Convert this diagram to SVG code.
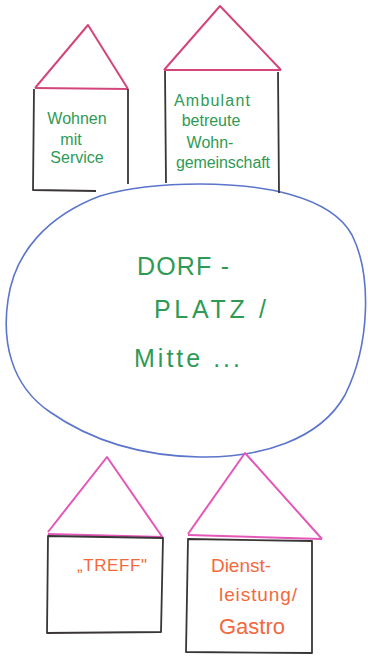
<svg xmlns="http://www.w3.org/2000/svg" width="368" height="664" viewBox="0 0 368 664">
<style>
.wall{fill:none;stroke:#3a3636;stroke-width:1.8;stroke-linejoin:round}
.roof1{fill:none;stroke:#d3467c;stroke-width:2;stroke-linejoin:round}
.roof2{fill:none;stroke:#e457b8;stroke-width:2;stroke-linejoin:round}
.g{fill:#2f9a55;font-family:"Liberation Sans",Arial,sans-serif;font-size:16px;text-anchor:middle}
.o{fill:#f2693c;font-family:"Liberation Sans",Arial,sans-serif;font-size:17px;text-anchor:middle}
.big{font-size:25px}
.o19{font-size:19px}
.o22{font-size:22px}
</style>
<rect width="368" height="664" fill="#ffffff"/>
<g id="dorfplatz">
<path d="M200,184 C260,184 330,195 352,235 C372,275 370,345 345,395 C320,440 260,458 200,457 C140,456 90,440 50,412 C10,385 2,340 8,300 C15,250 50,215 100,196 C130,187 165,184 200,184 Z" fill="none" stroke="#5b74cc" stroke-width="1.6"/>
<text class="g big" x="183" y="275" textLength="92">DORF -</text>
<text class="g big" x="210" y="318" textLength="112">PLATZ /</text>
<text class="g big" x="187" y="367" textLength="106">Mitte ...</text>
</g>
<g id="wohnen-mit-service">
<polyline class="roof1" points="35,88 88,25 128,89"/>
<line class="roof1" x1="35" y1="88" x2="128" y2="89"/>
<path class="wall" d="M34,89 L33,190 L96,191 M128,89 L128,184"/>
<text class="g" x="77" y="124">Wohnen</text>
<text class="g" x="71" y="145">mit</text>
<text class="g" x="77" y="163">Service</text>
</g>
<g id="ambulant-wg">
<polyline class="roof1" points="164,70 220,6 281,70"/>
<line class="roof1" x1="164" y1="70" x2="281" y2="70"/>
<path class="wall" d="M165,71 L166,183 M278,72 L279,193"/>
<text class="g" x="212" y="106" textLength="76">Ambulant</text>
<text class="g" x="211" y="126">betreute</text>
<text class="g" x="210" y="148">Wohn-</text>
<text class="g" x="223" y="168" textLength="94">gemeinschaft</text>
</g>
<g id="treff">
<polyline class="roof2" points="48,532 107,457 163,538"/>
<line class="roof2" x1="48" y1="534" x2="163" y2="537"/>
<path class="wall" d="M48,536 L47,633 L161,632 L163,538 Z"/>
<text class="o" x="112" y="571" textLength="70">„TREFF"</text>
</g>
<g id="dienstleistung-gastro">
<polyline class="roof2" points="188,534 245,453 322,539"/>
<line class="roof2" x1="188" y1="535" x2="322" y2="539"/>
<path class="wall" d="M188,539 L186,652 L312,653 L312,541 Z"/>
<text class="o o19" x="241" y="572">Dienst-</text>
<text class="o o19" x="258" y="601" textLength="78">leistung/</text>
<text class="o o22" x="252" y="634">Gastro</text>
</g>
</svg>
